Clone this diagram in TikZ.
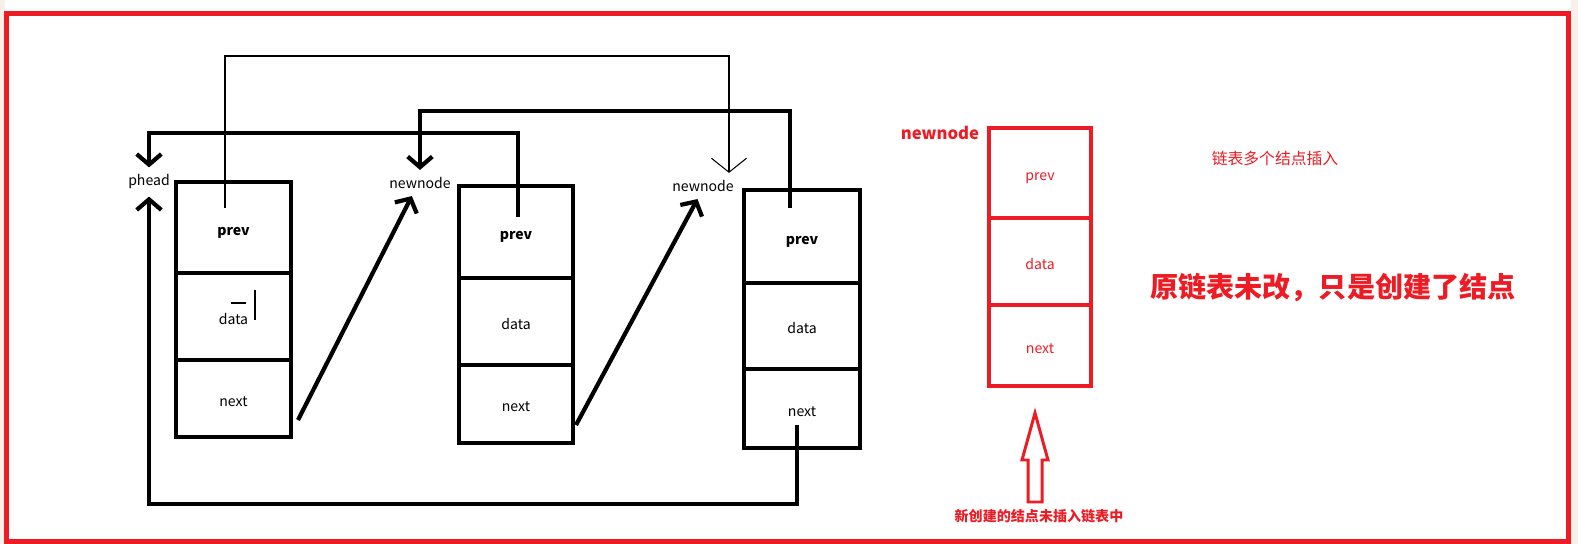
\documentclass[tikz,border=0pt]{standalone}
\usepackage{fontspec}
\setmainfont{Noto Sans CJK SC}
\usetikzlibrary{arrows.meta,positioning,calc}
\definecolor{paintred}{RGB}{237,28,36}
\definecolor{pagebg}{RGB}{248,240,233}

\begin{document}
\begin{tikzpicture}[x=0.02cm,y=-0.02cm,
  every node/.style={font=\fontsize{8}{9}\selectfont},
  cell/.style={draw,line width=2.8pt,outer sep=0pt,inner sep=0pt,text height=9pt,text depth=0pt},
  redcell/.style={cell,draw=paintred,text=paintred,minimum width=2.04cm},
  lbl/.style={inner sep=4pt},
  link/.style={line width=2.4pt,-{Straight Barb[length=6pt,width=14pt]}},
  thinlink/.style={line width=0.6pt,-{Straight Barb[length=8pt,width=20pt]}}]
\useasboundingbox (0,0) rectangle (1578,544);
% page and red frame
\fill[pagebg] (0,0) rectangle (1578,544);
\fill[white] (5,0) rectangle (1571,544);
\draw[paintred,line width=2.6pt] (6.5,13.5) rectangle (1568.5,541.5);

% first list node
\node[cell,minimum width=2.3cm,minimum height=1.82cm] (p1) at (233.5,227.5) {\textbf{prev}};
\node[cell,minimum width=2.3cm,minimum height=1.74cm,below=0pt of p1] (d1) {data};
\node[cell,minimum width=2.3cm,minimum height=1.54cm,below=0pt of d1] (n1) {next};
\draw[line width=0.6pt] (231,303) -- (246,303);
\draw[line width=0.6pt] (255,290) -- (255,320);

% second list node
\node[cell,minimum width=2.28cm,minimum height=1.84cm] (p2) at (516,232) {\textbf{prev}};
\node[cell,minimum width=2.28cm,minimum height=1.74cm,below=0pt of p2] (d2) {data};
\node[cell,minimum width=2.28cm,minimum height=1.56cm,below=0pt of d2] (n2) {next};

% third list node
\node[cell,minimum width=2.32cm,minimum height=1.86cm] (p3) at (802,236.5) {\textbf{prev}};
\node[cell,minimum width=2.32cm,minimum height=1.72cm,below=0pt of p3] (d3) {data};
\node[cell,minimum width=2.32cm,minimum height=1.58cm,below=0pt of d3] (n3) {next};

% pointer names
\node[lbl] (phead) at (149,182) {phead};
\node[lbl] (nn1) at (420,183) {newnode};
\node[lbl] (nn2) at (703,186) {newnode};

\coordinate (c1p) at (225,208);
\coordinate (c2p) at (518,217);
\coordinate (c3p) at (790,208);
\coordinate (c1n) at (298,420);
\coordinate (c2n) at (576,425);
\coordinate (c3n) at (797,425);

\draw[thinlink] (c1p) -- (c1p |- 0,56) -| ([xshift=0.52cm]nn2.north);
\draw[link] (c2p) -- (c2p |- 0,133) -| (phead.north);
\draw[link] (c3p) -- (c3p |- 0,111) -| (nn1.north);
\draw[link] (c3n) -- (c3n |- 0,504) -| (phead.south);
\draw[link] (c1n) -- (nn1.238);
\draw[link] (c2n) -- (nn2.247);

% the new node, not linked yet
\node[redcell,minimum height=1.80cm] (rp) at (1040,173) {prev};
\node[redcell,minimum height=1.74cm,below=0pt of rp] (rd) {data};
\node[redcell,minimum height=1.62cm,below=0pt of rd] (rn) {next};
\node[text=paintred,font=\fontsize{9.5}{11}\selectfont\bfseries] (rname) at (940,133) {newnode};

\draw[paintred,line width=1.7pt] (1035,413) -- (1048,460) -- (1042,460) -- (1042,502)
  -- (1028,502) -- (1028,460) -- (1022,460) -- cycle;
\node[text=paintred,font=\fontsize{8}{10}\selectfont\bfseries] (hint) at (1039,516) {新创建的结点未插入链表中};

\node[text=paintred,font=\fontsize{9}{11}\selectfont] (title) at (1275,158) {链表多个结点插入};
\node[text=paintred,font=\fontsize{16}{19}\selectfont\bfseries] (remark) at (1333,288) {原链表未改，只是创建了结点};
\end{tikzpicture}
\end{document}
